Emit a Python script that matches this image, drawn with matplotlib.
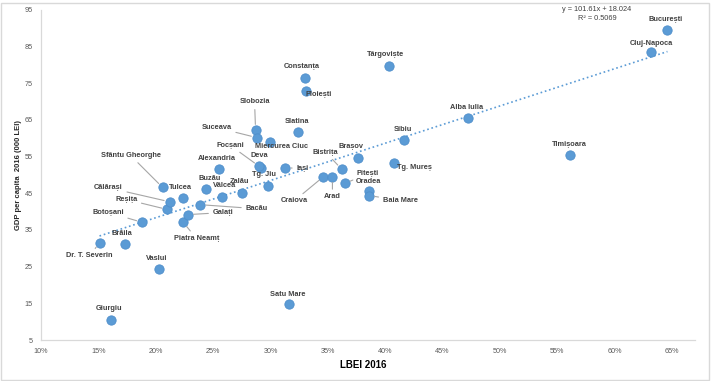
import numpy as np
import matplotlib.pyplot as plt
from matplotlib.patches import Rectangle
from matplotlib.ticker import FuncFormatter

# ---- data ----
cities = ['Dr. T. Severin', 'Brăila', 'Botoșani', 'Vaslui', 'Giurgiu', 'Reșița',
          'Călărași', 'Sfântu Gheorghe', 'Tulcea', 'Piatra Neamț', 'Galați', 'Bacău',
          'Buzău', 'Vâlcea', 'Zalău', 'Alexandria', 'Târgoviște', 'Constanța',
          'Ploiești', 'Slobozia', 'Suceava', 'Miercurea Ciuc', 'Slatina', 'Sibiu',
          'Brașov', 'Tg. Mureș', 'Deva', 'Focșani', 'Iași', 'Tg. Jiu', 'Bistrița',
          'Craiova', 'Arad', 'Pitești', 'Oradea', 'Baia Mare', 'Satu Mare',
          'Alba Iulia', 'Timișoara', 'Cluj-Napoca', 'București']
lbei = [0.151, 0.173, 0.188, 0.203, 0.161, 0.210,
        0.212, 0.206, 0.224, 0.224, 0.228, 0.239,
        0.244, 0.258, 0.275, 0.255, 0.403, 0.330,
        0.331, 0.287, 0.288, 0.300, 0.324, 0.416,
        0.376, 0.408, 0.292, 0.290, 0.313, 0.298, 0.362,
        0.346, 0.354, 0.365, 0.386, 0.386, 0.316,
        0.472, 0.561, 0.632, 0.646]
gdp = [31.5, 31.2, 37.1, 24.3, 10.5, 40.6,
       42.7, 46.6, 43.8, 37.1, 39.2, 41.9,
       46.2, 43.9, 45.2, 51.6, 79.8, 76.5,
       73.0, 62.3, 60.2, 58.9, 61.7, 59.5,
       54.7, 53.2, 52.0, 52.4, 52.0, 47.0, 51.6,
       49.5, 49.5, 47.7, 45.5, 44.4, 14.7,
       65.6, 55.5, 83.5, 89.5]
slope, intercept, r2 = 101.61, 18.024, 0.5069

# ---- label placement: offset in pixels (dx, dy), leader line yes/no ----
label_pos = {
    'Dr. T. Severin': (-10, -13, True), 'Brăila': (-3, 10, False),
    'Botoșani': (-34, 10, True), 'Vaslui': (-2, 11, False),
    'Giurgiu': (-2, 11, False), 'Reșița': (-41, 10, True),
    'Călărași': (-61, 14, True), 'Sfântu Gheorghe': (-32, 32, True),
    'Tulcea': (-3, 10, False), 'Piatra Neamț': (13, -16, True),
    'Galați': (35, 2, True), 'Bacău': (56, -4, True),
    'Buzău': (3, 10, False), 'Vâlcea': (2, 12, False),
    'Zalău': (-2, 11, False), 'Alexandria': (-2, 11, False),
    'Târgoviște': (-3, 11, False), 'Constanța': (-3, 11, False),
    'Ploiești': (13, -4, False), 'Slobozia': (-1, 28, True),
    'Suceava': (-40, 10, True), 'Miercurea Ciuc': (11, -4, False),
    'Slatina': (-1, 11, False), 'Sibiu': (-1, 11, False),
    'Brașov': (-7, 11, False), 'Tg. Mureș': (20, -4, False),
    'Deva': (-2, 12, False), 'Focșani': (-29, 21, True),
    'Iași': (17, -1, True), 'Tg. Jiu': (-4, 11, False),
    'Bistrița': (-16, 17, True), 'Craiova': (-29, -24, True),
    'Arad': (0, -20, True), 'Pitești': (23, 10, True),
    'Oradea': (-1, 10, False), 'Baia Mare': (31, -5, True),
    'Satu Mare': (-1, 10, False), 'Alba Iulia': (-1, 10, False),
    'Timișoara': (-1, 10, False), 'Cluj-Napoca': (0, 9, False),
    'București': (-2, 11, False),
}

BLUE = '#5B9BD5'
LABEL = '#404040'
TICK = '#595959'
plt.rcParams['font.family'] = ['Liberation Sans', 'DejaVu Sans']

fig = plt.figure(figsize=(7.12, 3.81), dpi=100)
ax = fig.add_axes([0.0576, 0.1076, 0.9185, 0.8662])

# trend line
tx = np.array([min(lbei), max(lbei)])
ax.plot(tx, slope * tx + intercept, linestyle=':', color=BLUE, lw=1.2, zorder=2)

ax.scatter(lbei, gdp, s=45, color=BLUE, edgecolor='#4F8FCB', linewidth=0.6, zorder=3)

for name, x, y in zip(cities, lbei, gdp):
    dx, dy, leader = label_pos[name]
    kw = {}
    if leader:
        kw['arrowprops'] = dict(arrowstyle='-', color='#a6a6a6', lw=0.8,
                                shrinkA=1, shrinkB=4)
    ax.annotate(name, (x, y), xytext=(dx, dy), textcoords='offset pixels',
                ha='center', va='center', fontsize=5.3, fontweight='bold',
                color=LABEL, zorder=4, **kw)

ax.text(0.850, 1.012, f'y = {slope}x + {intercept}\nR² = {r2}', transform=ax.transAxes,
        ha='center', va='top', fontsize=5.3, color=LABEL, linespacing=1.3)

ax.set_xlim(0.10, 0.67)
ax.set_ylim(5, 95)
ax.set_xticks(np.arange(0.10, 0.66, 0.05))
ax.set_yticks(np.arange(5, 96, 10))
ax.xaxis.set_major_formatter(FuncFormatter(lambda v, p: f'{v * 100:.0f}%'))
ax.tick_params(length=0, labelsize=5.2, labelcolor=TICK)
ax.tick_params(axis='y', pad=6)
ax.tick_params(axis='x', pad=6)
for s in ['top', 'right']:
    ax.spines[s].set_visible(False)
for s in ['left', 'bottom']:
    ax.spines[s].set_color('#d9d9d9')
    ax.spines[s].set_linewidth(0.9)

ax.set_xlabel('LBEI 2016', fontsize=7, fontweight='bold', color='black')
ax.xaxis.set_label_coords(0.492, -0.076)
ax.xaxis.label.set_va('center')
ax.set_ylabel('GDP per capita  2016 (000 LEI)', fontsize=5.5, fontweight='bold',
              color='#262626')
ax.yaxis.set_label_coords(-0.035, 0.5)
ax.yaxis.label.set_va('center')

fig.patches.append(Rectangle((0.002, 0.003), 0.994, 0.99, transform=fig.transFigure,
                             fill=False, edgecolor='#d9d9d9', lw=1))

fig.savefig('out.png', dpi=100)
